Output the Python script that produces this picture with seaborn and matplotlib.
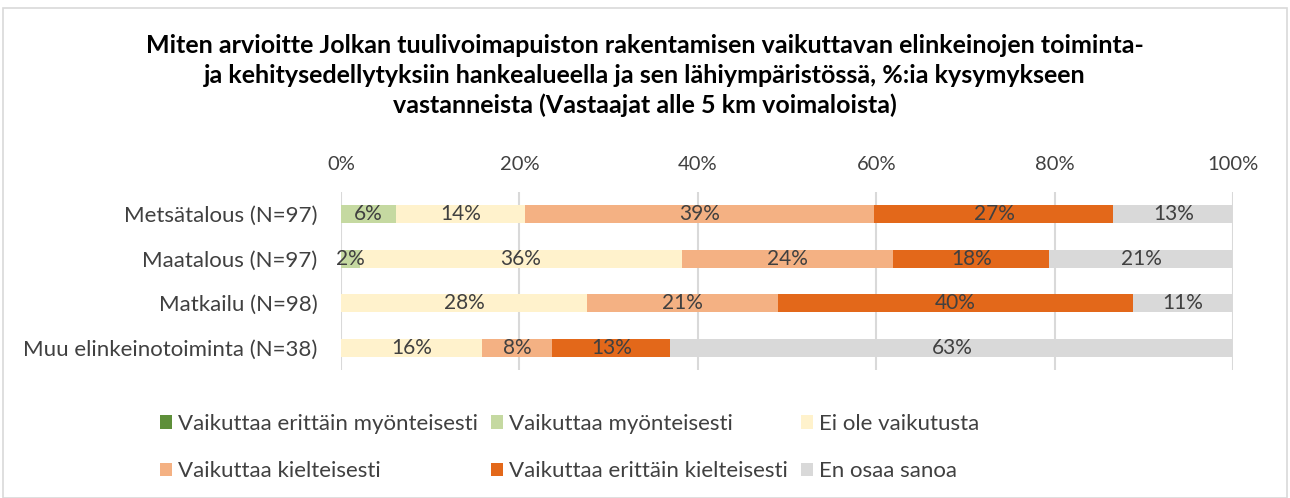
import numpy as np
import pandas as pd
import matplotlib
matplotlib.use('Agg')
import matplotlib.pyplot as plt
from matplotlib.patches import Rectangle, Patch
import seaborn as sns

# data (% of respondents)
categories = ['Metsätalous (N=97)', 'Maatalous (N=97)', 'Matkailu (N=98)', 'Muu elinkeinotoiminta (N=38)']
series = ['Vaikuttaa erittäin myönteisesti', 'Vaikuttaa myönteisesti', 'Ei ole vaikutusta',
          'Vaikuttaa kielteisesti', 'Vaikuttaa erittäin kielteisesti', 'En osaa sanoa']
erittain_myonteisesti = [0.0, 0.0, 0.0, 0.0]
myonteisesti = [6.2, 2.1, 0.0, 0.0]
ei_vaikutusta = [14.4, 36.1, 27.6, 15.8]
kielteisesti = [39.2, 23.7, 21.4, 7.9]
erittain_kielteisesti = [26.8, 17.5, 39.8, 13.2]
en_osaa = [13.4, 20.6, 11.2, 63.2]
colors = ['#5E8F3A', '#C5D9A1', '#FFF2CC', '#F4B183', '#E3681A', '#D9D9D9']

values = [erittain_myonteisesti, myonteisesti, ei_vaikutusta, kielteisesti, erittain_kielteisesti, en_osaa]

sns.set_style('white')
plt.rcParams['font.family'] = ['Lato', 'DejaVu Sans']

fig = plt.figure(figsize=(12.9, 4.98), dpi=100)
ax = fig.add_axes([341/1290, 1-370/498, 892/1290, 178/498])

df = pd.DataFrame({s: v for s, v in zip(series, values)}, index=categories)
cum = df.cumsum(axis=1)

# draw cumulative totals from the last series backwards so earlier ones sit on top
for s, c in reversed(list(zip(series, colors))):
    d = pd.DataFrame({'cat': categories, 'val': cum[s].values})
    sns.barplot(data=d, x='val', y='cat', color=c, orient='h', width=0.4,
                linewidth=0, saturation=1, ax=ax)

for i, cat in enumerate(categories):
    for s in series:
        v = df.loc[cat, s]
        if v > 0.5:
            ax.text(cum.loc[cat, s] - v/2, i, '{:.0f}%'.format(v), ha='center', va='center',
                    fontsize=15, color='#404040')

ax.set_xlim(0, 100)
ax.set_ylim(3.5, -0.5)
ax.set_xticks([0, 20, 40, 60, 80, 100])
ax.set_xticklabels(['0%', '20%', '40%', '60%', '80%', '100%'], fontsize=14.5, color='#404040')
ax.xaxis.tick_top()
ax.tick_params(axis='x', length=0, pad=14)
ax.tick_params(axis='y', length=0, pad=17, labelsize=16, labelcolor='#404040')
ax.set_xlabel('')
ax.set_ylabel('')
ax.grid(True, axis='x', color='#D9D9D9', linewidth=1.5)
ax.set_axisbelow(True)
for sp in ax.spines.values():
    sp.set_visible(False)

fig.text(0.5, 1-34/498, 'Miten arvioitte Jolkan tuulivoimapuiston rakentamisen vaikuttavan elinkeinojen toiminta-\n'
         'ja kehitysedellytyksiin hankealueella ja sen lähiympäristössä, %:ia kysymykseen\n'
         'vastanneista (Vastaajat alle 5 km voimaloista)',
         ha='center', va='top', fontsize=18, fontweight='bold', linespacing=1.36, color='black')

handles = [Patch(facecolor=c, edgecolor='none') for c in colors]
order = [0, 3, 1, 4, 2, 5]
fig.legend([handles[k] for k in order], [series[k] for k in order], ncol=3,
           loc='upper left', bbox_to_anchor=(140/1290, 1-394/498), frameon=False,
           fontsize=16, handlelength=0.55, handleheight=0.55, handletextpad=0.25,
           columnspacing=0.6, labelspacing=1.22, labelcolor='#404040')

fig.add_artist(Rectangle((3/1290, 0), 1284/1290, 1-8/498, transform=fig.transFigure,
                         fill=False, edgecolor='#D9D9D9', linewidth=1.2))

fig.savefig('out.png', dpi=100)
